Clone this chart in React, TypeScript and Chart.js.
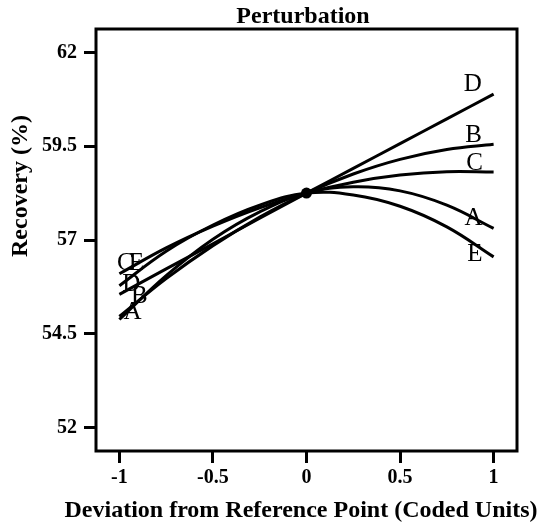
import React, { useEffect, useRef } from "react";
import { Chart, registerables } from "chart.js";

Chart.register(...registerables);

// Deviation from reference point (coded units)
const X_POS = [-1, -0.75, -0.5, -0.25, 0, 0.25, 0.5, 0.75, 1];
// Recovery (%) per factor
const SERIES_A = [54.88, 56.05, 57.02, 57.75, 58.25, 58.42, 58.31, 57.93, 57.31];
const SERIES_B = [54.96, 55.97, 56.85, 57.61, 58.25, 58.76, 59.15, 59.41, 59.55];
const SERIES_C = [56.1, 56.79, 57.37, 57.86, 58.25, 58.54, 58.73, 58.82, 58.81];
const SERIES_D = [55.55, 56.23, 56.9, 57.58, 58.25, 58.91, 59.57, 60.23, 60.89];
const SERIES_E = [55.78, 56.7, 57.4, 57.93, 58.25, 58.2, 57.9, 57.35, 56.55];
const SERIES_NAMES = ["A", "B", "C", "D", "E"];
const REF_X = [0];
const REF_Y = [58.25];
const X_TICKS = [-1, -0.5, 0, 0.5, 1];
const Y_TICKS = [52, 54.5, 57, 59.5, 62];

const SERIF = "'Liberation Serif', 'Times New Roman', serif";

// curve-letter annotations (data coordinates)
const CURVE_LABELS = [
  { text: "D", x: 0.888, y: 61.21 },
  { text: "B", x: 0.893, y: 59.84 },
  { text: "C", x: 0.898, y: 59.08 },
  { text: "A", x: 0.893, y: 57.63 },
  { text: "E", x: 0.9, y: 56.68 },
  { text: "C", x: -0.968, y: 56.44 },
  { text: "E", x: -0.909, y: 56.44 },
  { text: "D", x: -0.936, y: 55.86 },
  { text: "B", x: -0.893, y: 55.54 },
  { text: "A", x: -0.93, y: 55.11 },
];

const overlayPlugin = {
  id: "overlay",
  afterDatasetsDraw(chart: any) {
    const { ctx, scales } = chart;
    ctx.save();
    ctx.fillStyle = "#000";
    ctx.font = `25px ${SERIF}`;
    ctx.textAlign = "center";
    ctx.textBaseline = "alphabetic";
    for (const l of CURVE_LABELS) {
      const px = scales.x.getPixelForValue(l.x);
      const py = scales.y.getPixelForValue(l.y);
      ctx.fillText(l.text, px, py + 8.5);
    }
    ctx.restore();
  },
  afterDraw(chart: any) {
    const { ctx, chartArea } = chart;
    const { left, top, right, bottom } = chartArea;
    ctx.save();
    ctx.strokeStyle = "#000";
    ctx.lineWidth = 3;
    ctx.strokeRect(left, top, right - left, bottom - top);

    ctx.fillStyle = "#000";
    ctx.font = `bold 24px ${SERIF}`;
    ctx.textAlign = "center";
    ctx.textBaseline = "alphabetic";
    ctx.fillText("Perturbation", 303, 23);
    ctx.fillText("Deviation from Reference Point (Coded Units)", 301, 517);

    ctx.translate(27, 186);
    ctx.rotate(-Math.PI / 2);
    ctx.fillText("Recovery (%)", 0, 0);
    ctx.restore();
  },
};

export default function App() {
  const canvasRef = useRef<HTMLCanvasElement | null>(null);

  useEffect(() => {
    document.body.style.margin = "0";
    const canvas = canvasRef.current;
    if (!canvas) return;

    const seriesList = [SERIES_A, SERIES_B, SERIES_C, SERIES_D, SERIES_E];
    const datasets: any[] = seriesList.map((s, k) => ({
      label: SERIES_NAMES[k],
      data: X_POS.map((x, i) => ({ x, y: s[i] })),
      borderColor: "#000",
      borderWidth: 3,
      pointRadius: 0,
      tension: 0.4,
      fill: false,
    }));
    datasets.push({
      label: "Reference",
      data: REF_X.map((x, i) => ({ x, y: REF_Y[i] })),
      showLine: false,
      pointRadius: 5.5,
      pointBackgroundColor: "#000",
      pointBorderWidth: 0,
      borderColor: "#000",
    });

    const tickFont = { family: SERIF, size: 20, weight: "bold" as const };
    const grid = {
      display: true,
      drawOnChartArea: false,
      drawTicks: true,
      tickLength: 12,
      tickColor: "#000",
      tickWidth: 3,
      color: "#000",
    };

    const chart = new Chart(canvas, {
      type: "line",
      data: { datasets },
      options: {
        animation: false,
        responsive: false,
        devicePixelRatio: 1,
        layout: { padding: { left: 0, right: 33, top: 29, bottom: 0 } },
        plugins: {
          legend: { display: false },
          tooltip: { enabled: false },
          title: { display: false },
        },
        scales: {
          x: {
            type: "linear",
            min: -1.125,
            max: 1.125,
            afterBuildTicks: (s: any) => {
              s.ticks = X_TICKS.map((v) => ({ value: v }));
            },
            afterFit: (s: any) => {
              s.height = 77;
            },
            ticks: {
              color: "#000",
              font: tickFont,
              padding: 3,
              maxRotation: 0,
              autoSkip: false,
              callback: (v: any) => String(v),
            },
            grid,
            border: { display: false },
          },
          y: {
            type: "linear",
            min: 51.375,
            max: 62.625,
            afterBuildTicks: (s: any) => {
              s.ticks = Y_TICKS.map((v) => ({ value: v }));
            },
            afterFit: (s: any) => {
              s.width = 96;
            },
            ticks: {
              color: "#000",
              font: tickFont,
              padding: 7,
              autoSkip: false,
              callback: (v: any) => String(v),
            },
            grid,
            border: { display: false },
          },
        },
      },
      plugins: [overlayPlugin],
    });

    return () => chart.destroy();
  }, []);

  return (
    <div style={{ width: 550, height: 528, position: "relative", background: "#fff" }}>
      <canvas ref={canvasRef} width={550} height={528} style={{ width: 550, height: 528, display: "block" }} />
    </div>
  );
}
